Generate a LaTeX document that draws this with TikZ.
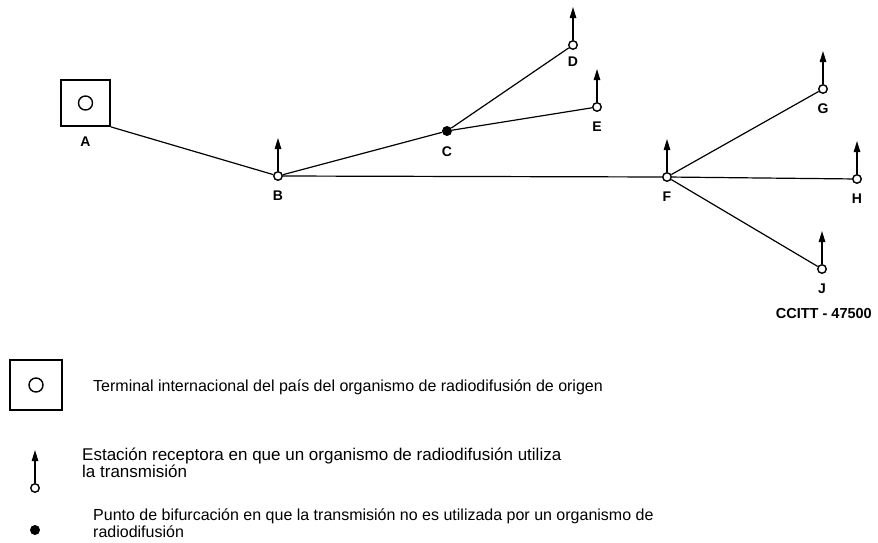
\documentclass[tikz,border=0pt]{standalone}
\usepackage{fontspec}
\setmainfont{Liberation Sans}
\usetikzlibrary{arrows.meta}

\tikzset{
  station/.style={circle, draw, line width=1.4pt, fill=white, inner sep=0pt, minimum size=8.5pt},
  branch/.style={circle, fill, inner sep=0pt, minimum size=10pt},
  terminal/.style={rectangle, draw, line width=1.8pt, inner sep=0pt},
  recv/.style={-{Triangle[length=11pt,width=6.5pt]}, line width=1.2pt},
  link/.style={line width=1.2pt},
  tag/.style={font=\fontsize{14}{14}\selectfont\bfseries, inner sep=0pt, label distance=10pt},
  legtext/.style={font=\fontsize{16}{17}\selectfont, anchor=west, align=left, inner sep=0pt}
}

\begin{document}
\begin{tikzpicture}[x=1pt, y=-1pt]
\useasboundingbox (0,0) rectangle (878,543);

%terminal
\node[terminal, minimum width=49pt, minimum height=46pt, label={[tag]below:A}] (A) at (85.5,103) {};
\draw[line width=1.4pt] (A.center) circle (7);

%stations and branch point
\node[station, label={[tag]below:B}] (B) at (278,176) {};
\node[branch, label={[tag]below:C}] (C) at (447,131) {};
\node[station, label={[tag, label distance=7pt]below:D}] (D) at (573,45) {};
\node[station, label={[tag]below:E}] (E) at (597,107) {};
\node[station, label={[tag]below:F}] (F) at (667,177) {};
\node[station, label={[tag]below:G}] (G) at (823,89) {};
\node[station, label={[tag]below:H}] (H) at (857,179) {};
\node[station, label={[tag]below:J}] (J) at (822,269) {};

%links
\draw[link] (A.south east) -- (B);
\draw[link] (B) -- (C);
\draw[link] (C) -- (D);
\draw[link] (C) -- (E);
\draw[link] (B) -- (F);
\draw[link] (F) -- (G);
\draw[link] (F) -- (H);
\draw[link] (F) -- (J);

%receiving arrows
\foreach \s in {B,D,E,F,G,H,J}
  \draw[recv] (\s.north) -- ++(0,-33);

\node[anchor=east, inner sep=0pt, font=\fontsize{14.5}{14.5}\selectfont\bfseries] (ref) at (872,314) {CCITT - 47500};

%legend
\node[terminal, minimum width=52pt, minimum height=50pt] (legA) at (36,385) {};
\draw[line width=1.4pt] (legA.center) circle (7);
\node[legtext] (txtA) at (93,387) {Terminal internacional del país del organismo de radiodifusión de origen};

\node[station] (legB) at (35,488) {};
\draw[recv] (legB.north) -- ++(0,-33);
\node[legtext, font=\fontsize{17}{16.5}\selectfont] (txtB) at (82,463) {Estación receptora en que un organismo de radiodifusión utiliza\\la transmisión};

\node[branch] (legC) at (35,530) {};
\node[legtext] (txtC) at (93,523) {Punto de bifurcación en que la transmisión no es utilizada por un organismo de\\radiodifusión};
\end{tikzpicture}
\end{document}
